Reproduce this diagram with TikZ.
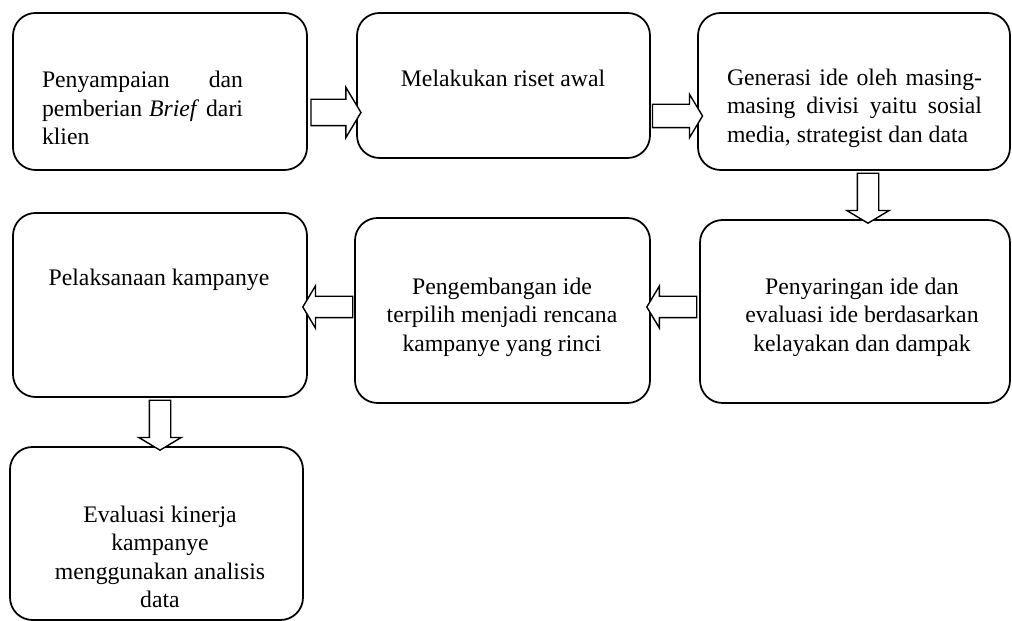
\documentclass[tikz,border=0pt]{standalone}
\usepackage{fontspec}
\setmainfont{Liberation Serif}
\usetikzlibrary{shapes.arrows}
\definecolor{white}{RGB}{255,255,255}
\definecolor{black}{RGB}{0,0,0}

\begin{document}
\begin{tikzpicture}[
	box/.style={rectangle,rounded corners=0.45cm,draw=black,line width=1pt,fill=white},
	txt/.style={font=\fontsize{13.5}{16.2}\selectfont,inner sep=0pt},
	hollow/.style={single arrow,draw=black,line width=0.8pt,fill=white,inner xsep=0pt,single arrow tip angle=118,minimum height=1cm}]
	\useasboundingbox (0,0) rectangle (20.24,12.42);

	\node[box,minimum width=5.88cm,minimum height=3.14cm] (1) at (3.20,10.59) {};
	\node[box,minimum width=5.86cm,minimum height=2.90cm] (2) at (10.07,10.71) {};
	\node[box,minimum width=6.24cm,minimum height=3.14cm] (3) at (17.08,10.59) {};
	\node[box,minimum width=6.20cm,minimum height=3.66cm] (4) at (17.10,6.19) {};
	\node[box,minimum width=5.90cm,minimum height=3.70cm] (5) at (10.05,6.21) {};
	\node[box,minimum width=5.88cm,minimum height=3.68cm] (6) at (3.20,6.32) {};
	\node[box,minimum width=5.86cm,minimum height=3.46cm] (7) at (3.13,1.75) {};

	\node[txt,text width=4.02cm,align=justify] (t1) at (2.85,10.26) {Penyampaian dan\linebreak pemberian \textit{Brief} dari klien};
	\node[txt] (t2) at (10.06,10.86) {Melakukan riset awal};
	\node[txt,text width=5.1cm,align=justify] (t3) at (17.09,10.26) {Generasi ide oleh masing-\linebreak masing divisi yaitu sosial\linebreak media, strategist dan data};
	\node[txt,align=center] (t4) at (17.24,6.08) {Penyaringan ide dan\\evaluasi ide berdasarkan\\kelayakan dan dampak};
	\node[txt,align=center] (t5) at (10.04,6.08) {Pengembangan ide\\terpilih menjadi rencana\\kampanye yang rinci};
	\node[txt] (t6) at (3.18,6.82) {Pelaksanaan kampanye};
	\node[txt,align=center] (t7) at (3.20,1.28) {Evaluasi kinerja\\kampanye\\menggunakan analisis\\data};

	\foreach \a/\b/\y/\s/\e in {1.east/2.west/10.17/0.25/0.24,2.east/3.west/10.10/0.22/0.2,4.west/5.east/6.28/0.2/0.205,5.west/6.east/6.28/0.2/0.21}
		\path (\a |- 0,\y) -- (\b |- 0,\y) node[hollow,inner ysep=\s cm,single arrow head extend=\e cm,midway,sloped,allow upside down] {};
	\foreach \a/\b/\x in {3.south/4.north/17.36,6.south/7.north/3.20}
		\path (\x,0 |- \a) -- (\x,0 |- \b) node[hollow,inner ysep=0.2cm,single arrow head extend=0.21cm,midway,sloped,allow upside down] {};
\end{tikzpicture}
\end{document}
